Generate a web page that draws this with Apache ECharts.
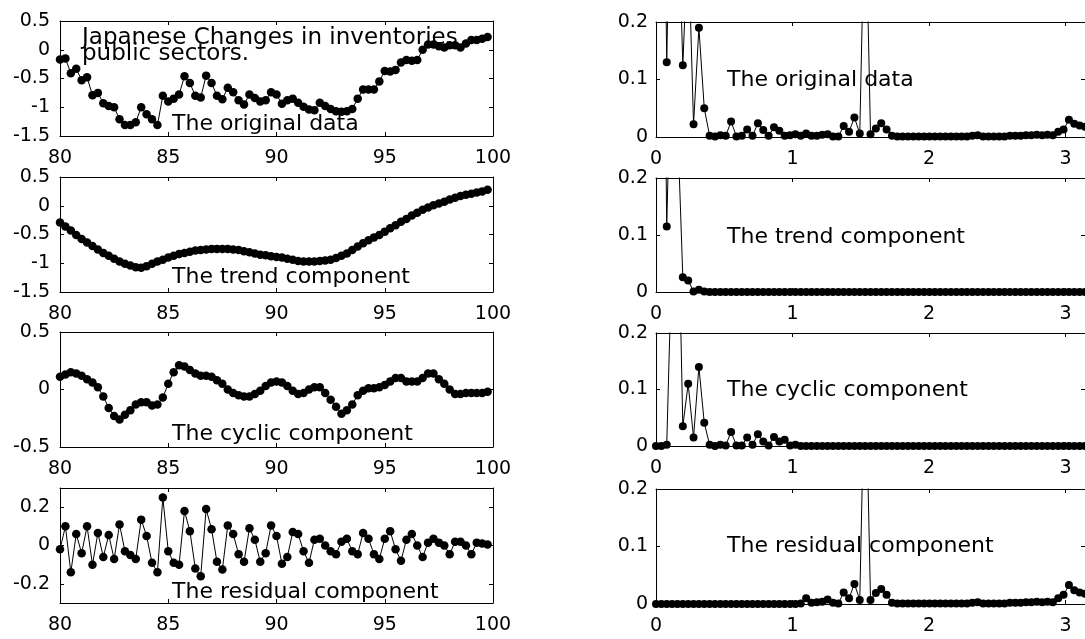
<!DOCTYPE html>
<html><head><meta charset="utf-8">
<script src="https://cdn.jsdelivr.net/npm/echarts@6/dist/echarts.min.js"></script>
<style>html,body{margin:0;padding:0;background:#fff}#c{width:1085px;height:639px}</style>
</head><body><div id="c"></div>
<script>
// Quarterly series, 1980Q1 .. 1999Q4
const originalData = [
 -0.17,-0.15,-0.41,-0.33,-0.53,-0.48,-0.79,-0.75,-0.93,-0.98,
 -1.00,-1.21,-1.31,-1.31,-1.26,-1.00,-1.12,-1.21,-1.31,-0.80,
 -0.90,-0.85,-0.78,-0.46,-0.58,-0.80,-0.83,-0.45,-0.58,-0.80,
 -0.86,-0.66,-0.74,-0.88,-0.95,-0.78,-0.84,-0.90,-0.88,-0.74,
 -0.78,-0.94,-0.88,-0.85,-0.92,-0.99,-1.04,-1.05,-0.92,-0.98,
 -1.03,-1.07,-1.08,-1.07,-1.03,-0.85,-0.69,-0.69,-0.69,-0.55,
 -0.37,-0.38,-0.35,-0.22,-0.18,-0.19,-0.18,0.00,0.09,0.09,
 0.06,0.04,0.08,0.08,0.04,0.11,0.17,0.17,0.19,0.22];
const trendData = [
 -0.29,-0.36,-0.43,-0.51,-0.58,-0.64,-0.70,-0.76,-0.82,-0.87,
 -0.92,-0.97,-1.01,-1.04,-1.07,-1.08,-1.05,-1.01,-0.97,-0.94,
 -0.90,-0.87,-0.84,-0.82,-0.80,-0.78,-0.77,-0.76,-0.75,-0.75,
 -0.75,-0.75,-0.76,-0.77,-0.79,-0.81,-0.83,-0.85,-0.86,-0.88,
 -0.89,-0.90,-0.92,-0.94,-0.96,-0.97,-0.97,-0.97,-0.96,-0.95,
 -0.94,-0.91,-0.87,-0.83,-0.77,-0.71,-0.65,-0.60,-0.55,-0.51,
 -0.45,-0.39,-0.34,-0.28,-0.23,-0.17,-0.12,-0.07,-0.03,0.01,
 0.04,0.07,0.11,0.14,0.17,0.19,0.21,0.23,0.25,0.28];
const cyclicData = [
 0.11,0.13,0.15,0.14,0.12,0.09,0.06,0.02,-0.06,-0.16,
 -0.23,-0.26,-0.22,-0.18,-0.13,-0.11,-0.11,-0.14,-0.13,-0.07,
 0.05,0.15,0.21,0.20,0.17,0.14,0.12,0.12,0.11,0.08,
 0.05,0.00,-0.03,-0.05,-0.06,-0.06,-0.04,-0.01,0.03,0.06,
 0.07,0.06,0.03,-0.01,-0.04,-0.03,0.00,0.02,0.02,-0.03,
 -0.09,-0.15,-0.21,-0.18,-0.13,-0.05,-0.01,0.01,0.01,0.02,
 0.04,0.07,0.10,0.10,0.07,0.07,0.07,0.10,0.14,0.14,
 0.09,0.05,0.00,-0.04,-0.04,-0.03,-0.03,-0.03,-0.03,-0.02];
const residualData = [
 -0.02,0.10,-0.14,0.06,-0.04,0.10,-0.10,0.065,-0.06,0.055,
 -0.07,0.11,-0.03,-0.05,-0.07,0.135,0.05,-0.09,-0.14,0.25,
 -0.03,-0.09,-0.10,0.18,0.075,-0.12,-0.16,0.19,0.085,-0.085,
 -0.125,0.105,0.06,-0.045,-0.085,0.09,0.03,-0.085,-0.04,0.105,
 0.05,-0.095,-0.06,0.07,0.06,-0.03,-0.09,0.03,0.035,0.00,
 -0.03,-0.045,0.02,0.035,-0.03,-0.045,0.065,0.035,-0.045,-0.07,
 0.035,0.075,-0.02,-0.08,0.03,0.06,0.00,-0.06,0.015,0.035,
 0.015,0.00,-0.045,0.02,0.02,0.00,-0.045,0.015,0.01,0.005];

// Periodograms, frequencies k*pi/80, k = 0..80
const specOriginal = [
 1.5,0.9,0.13,0.6,0.45,0.125,0.35,0.022,0.19,0.05,
 0.002,0.001,0.003,0.002,0.027,0.001,0.002,0.013,0.002,0.024,
 0.012,0.002,0.017,0.011,0.002,0.003,0.005,0.002,0.006,0.002,
 0.002,0.004,0.005,0.001,0.001,0.019,0.009,0.034,0.006,0.45,
 0.005,0.015,0.024,0.013,0.002,0.001,0.001,0.001,0.001,0.001,
 0.001,0.001,0.001,0.001,0.001,0.001,0.001,0.001,0.001,0.002,
 0.003,0.001,0.001,0.001,0.001,0.001,0.002,0.002,0.002,0.003,
 0.003,0.004,0.003,0.004,0.003,0.009,0.013,0.030,0.023,0.020,
 0.018];
const specTrend = [
 2.0,1.0,0.115,0.5,0.3,0.026,0.02,0.001,0.004,0.001,
 0,0,0,0,0,0,0,0,0,0,
 0,0,0,0,0,0,0,0,0,0,
 0,0,0,0,0,0,0,0,0,0,
 0,0,0,0,0,0,0,0,0,0,
 0,0,0,0,0,0,0,0,0,0,
 0,0,0,0,0,0,0,0,0,0,
 0,0,0,0,0,0,0,0,0,0,
 0];
const specCyclic = [
 0,0,0.002,0.35,0.5,0.035,0.11,0.015,0.14,0.041,
 0.002,0,0.002,0.001,0.025,0.001,0.001,0.015,0.002,0.021,
 0.008,0.001,0.016,0.008,0.011,0.001,0.002,0,0,0,
 0,0,0,0,0,0,0,0,0,0,
 0,0,0,0,0,0,0,0,0,0,
 0,0,0,0,0,0,0,0,0,0,
 0,0,0,0,0,0,0,0,0,0,
 0,0,0,0,0,0,0,0,0,0,
 0];
const specResidual = [
 0,0,0,0,0,0,0,0,0,0,
 0,0,0,0,0,0,0,0,0,0,
 0,0,0,0,0,0,0,0.001,0.01,0.002,
 0.003,0.004,0.008,0.002,0.001,0.02,0.01,0.035,0.007,0.45,
 0.007,0.019,0.026,0.016,0.002,0.001,0.001,0.001,0.001,0.001,
 0.001,0.001,0.001,0.001,0.001,0.001,0.001,0.001,0.001,0.002,
 0.003,0.001,0.001,0.001,0.001,0.001,0.002,0.002,0.002,0.003,
 0.003,0.004,0.003,0.004,0.003,0.010,0.016,0.033,0.024,0.020,
 0.018];

const panelLabels = ['The original data','The trend component','The cyclic component','The residual component'];
const titleLines = ['Japanese Changes in inventories','public sectors.'];
const yearTicks = [80, 85, 90, 95, 100];
const freqTicks = [0, 1, 2, 3];

const FONT = '"DejaVu Sans", "Liberation Sans", sans-serif';
const tops = [21, 177, 332, 488];
const heights = [115, 115, 115, 115];
const rtops = [22, 178, 333, 489];
const rheights = [115, 114, 113, 115];
const leftY = [
  {min:-1.5, max:0.5, interval:0.5},
  {min:-1.5, max:0.5, interval:0.5},
  {min:-0.5, max:0.5, interval:0.5},
  {min:-0.3, max:0.3, custom:[-0.2, 0, 0.2]}
];
const leftSeries = [originalData, trendData, cyclicData, residualData];
const rightSeries = [specOriginal, specTrend, specCyclic, specResidual];

const grids = [], xAxes = [], yAxes = [], series = [], graphics = [];
const lineAxis = {show:true, onZero:false, lineStyle:{color:'#000', width:1}};
const tickIn = {show:true, inside:true, length:4, lineStyle:{color:'#000', width:1}};
const lbl = {color:'#000', fontFamily:FONT, fontSize:19};

for (let g = 0; g < 8; g++) {
  const isLeft = g < 4, p = g % 4;
  grids.push(isLeft ? {left:60, top:tops[p], width:433, height:heights[p]}
                    : {left:656, top:rtops[p], width:433, height:rheights[p]});
  const xb = isLeft
    ? {min:80, max:100, interval:5}
    : {min:0, max:Math.PI, interval:1};
  const xt = Object.assign({}, tickIn, {customValues: isLeft ? yearTicks : freqTicks});
  xAxes.push(Object.assign({type:'value', gridIndex:g, position:'bottom', splitLine:{show:false},
    axisLine:lineAxis, axisTick:xt,
    axisLabel:Object.assign({}, lbl, {margin:13,
      customValues: isLeft ? yearTicks : freqTicks})}, xb));
  xAxes.push(Object.assign({type:'value', gridIndex:g, position:'top', splitLine:{show:false},
    axisLine:lineAxis, axisLabel:{show:false}, axisTick:xt}, xb));
  let yb;
  let custom = null;
  if (isLeft) {
    const c = leftY[p];
    yb = c.custom ? {min:c.min, max:c.max} : {min:c.min, max:c.max, interval:c.interval};
    custom = c.custom || null;
  } else {
    yb = {min:0, max:0.2, interval:0.1};
  }
  const yl = Object.assign({}, lbl, {margin: isLeft ? 10 : 8});
  const yt = Object.assign({}, tickIn);
  if (custom) { yl.customValues = custom; yt.customValues = custom; }
  yAxes.push(Object.assign({type:'value', gridIndex:g, position:'left', splitLine:{show:false},
    axisLine:lineAxis, axisTick:yt, axisLabel:yl}, yb));
  yAxes.push(Object.assign({type:'value', gridIndex:g, position:'right', splitLine:{show:false},
    axisLine:lineAxis, axisLabel:{show:false}, axisTick:yt}, yb));

  const data = isLeft
    ? leftSeries[p].map((v, i) => [80 + i / 4, v])
    : rightSeries[p].map((v, k) => [k * Math.PI / 80, v]);
  series.push({type:'line', xAxisIndex:2*g, yAxisIndex:2*g, data:data,
    symbol:'circle', symbolSize: isLeft ? 8.5 : 8, showSymbol:true, clip:true,
    itemStyle:{color:'#000'}, lineStyle:{color:'#000', width:1}, animation:false});
}

const leftLabelY = [124, 277.5, 434, 592.5];
const rightLabelY = [80, 237, 390, 546];
for (let p = 0; p < 4; p++) {
  graphics.push({type:'text', x:172, y:leftLabelY[p], z:100,
    style:{text:panelLabels[p], font:'22px ' + FONT, fill:'#000', verticalAlign:'middle'}});
  graphics.push({type:'text', x:727, y:rightLabelY[p], z:100,
    style:{text:panelLabels[p], font:'22px ' + FONT, fill:'#000', verticalAlign:'middle'}});
}
graphics.push({type:'text', x:82, y:38, z:100,
  style:{text:titleLines[0], font:'23px ' + FONT, fill:'#000', verticalAlign:'middle'}});
graphics.push({type:'text', x:82, y:54, z:100,
  style:{text:titleLines[1], font:'23px ' + FONT, fill:'#000', verticalAlign:'middle'}});

const chart = echarts.init(document.getElementById('c'));
chart.setOption({
  backgroundColor:'#fff', animation:false,
  grid:grids, xAxis:xAxes, yAxis:yAxes, series:series, graphic:graphics
});
</script></body></html>
